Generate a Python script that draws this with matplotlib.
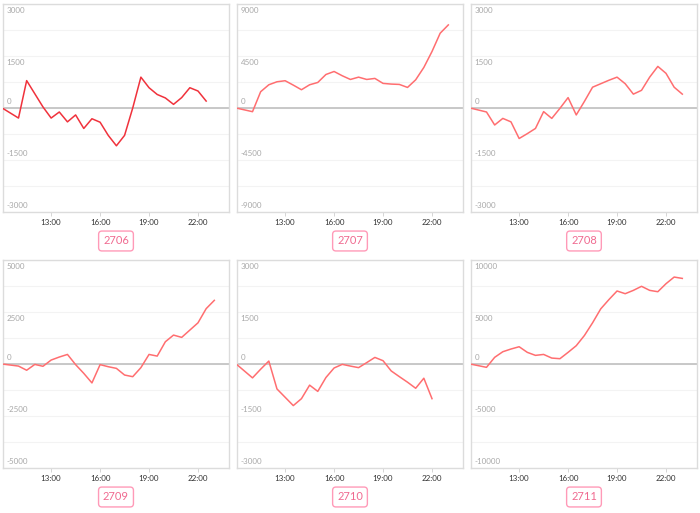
import matplotlib.pyplot as plt

# half-hourly sample times (hours), first point at 10:00 then from 11:00 on
times = [10.0, 11.0, 11.5, 12.0, 12.5, 13.0, 13.5, 14.0, 14.5, 15.0, 15.5, 16.0, 16.5,
         17.0, 17.5, 18.0, 18.5, 19.0, 19.5, 20.0, 20.5, 21.0, 21.5, 22.0, 22.5, 23.0]
tick_hours = [13, 16, 19, 22]
tick_labels = ["13:00", "16:00", "19:00", "22:00"]

codes = ["2706", "2707", "2708", "2709", "2710", "2711"]
limits = [3000, 9000, 3000, 5000, 3000, 10000]

v2706 = [0, -290, 790, 410, 30, -290, -115, -400, -200, -590, -310, -410, -790,
         -1090, -790, 0, 890, 585, 390, 290, 105, 300, 585, 490, 200]
v2707 = [0, -320, 1410, 2010, 2270, 2360, 1980, 1580, 2010, 2210, 2900, 3160, 2790,
         2470, 2670, 2470, 2560, 2130, 2070, 2040, 1780, 2440, 3510, 4890, 6470, 7190]
v2708 = [0, -115, -490, -300, -400, -880, -740, -590, -105, -300, -10, 300, -200,
         190, 600, 700, 800, 890, 700, 400, 510, 890, 1200, 1000, 600, 400]
v2709 = [0, -100, -300, -20, -110, 190, 335, 460, -30, -450, -910, -30, -130,
         -210, -530, -610, -175, 460, 380, 1070, 1390, 1280, 1630, 1980, 2660, 3060]
v2710 = [0, -400, -150, 85, -720, -960, -1200, -1000, -610, -790, -390, -115, -10,
         -60, -105, 40, 190, 95, -200, -365, -525, -700, -410, -1000]
v2711 = [0, -320, 640, 1180, 1440, 1660, 1120, 830, 920, 570, 510, 1120, 1760,
         2740, 3960, 5300, 6190, 7020, 6760, 7080, 7470, 7080, 6950, 7720, 8360, 8230]
series = [v2706, v2707, v2708, v2709, v2710, v2711]

line_colors = ["#f0323c", "#ff6e70", "#ff6e70", "#ff6e70", "#ff6e70", "#ff6e70"]

W, H = 700, 513
fig = plt.figure(figsize=(W / 100, H / 100), dpi=100)

col_left = [3, 237, 471]
col_w = 226
row_top = [4, 260]
row_h = 208

for i, (code, lim, vals) in enumerate(zip(codes, limits, series)):
    r, c = divmod(i, 3)
    left, top = col_left[c], row_top[r]
    ax = fig.add_axes([left / W, 1 - (top + row_h) / H, col_w / W, row_h / H])

    ax.plot(times[:len(vals)], vals, color=line_colors[i], lw=1.1, zorder=3)
    ax.axhline(0, color="#c4c4c4", lw=1.3, zorder=2)

    ax.set_xlim(10.05, 23.9)
    ax.set_ylim(-lim, lim)

    # faint grid every quarter of the label step
    step = lim / 4
    ax.set_yticks([-lim + k * step for k in range(9)])
    ax.tick_params(axis="y", length=0, labelleft=False)
    ax.grid(axis="y", color="#f3f3f3", lw=0.8)

    ax.set_xticks(tick_hours)
    ax.set_xticklabels(tick_labels)
    ax.tick_params(axis="x", length=3, width=0.6, color="#cfcfcf", pad=2,
                   labelsize=5.8, labelcolor="#333333")
    for lab in ax.get_xticklabels():
        lab.set_family("Lato")

    for s in ax.spines.values():
        s.set_color("#dcdcdc")
        s.set_linewidth(1.0)

    # value labels drawn inside the plot, like the original
    for v in [lim, lim / 2, 0, -lim / 2, -lim]:
        if v > 0:
            va, dy = "top", -2.5
        else:
            va, dy = "bottom", 2.5
        ax.annotate(f"{int(v)}", xy=(0, v), xycoords=("axes fraction", "data"),
                    xytext=(2.5, dy), textcoords="offset points",
                    ha="left", va=va, fontsize=5.8, color="#a8a8a8",
                    family="Lato", zorder=4)

    # code badge under each panel
    cx = (left + col_w / 2) / W
    cy = 1 - (top + row_h + 29) / H
    fig.text(cx, cy, code, ha="center", va="center", fontsize=8,
             color="#f06a90", family="Lato",
             bbox=dict(boxstyle="round,pad=0.4,rounding_size=0.3",
                       fc="white", ec="#ff9ab8", lw=1.0))

fig.savefig("out.png", dpi=100, facecolor="white")
